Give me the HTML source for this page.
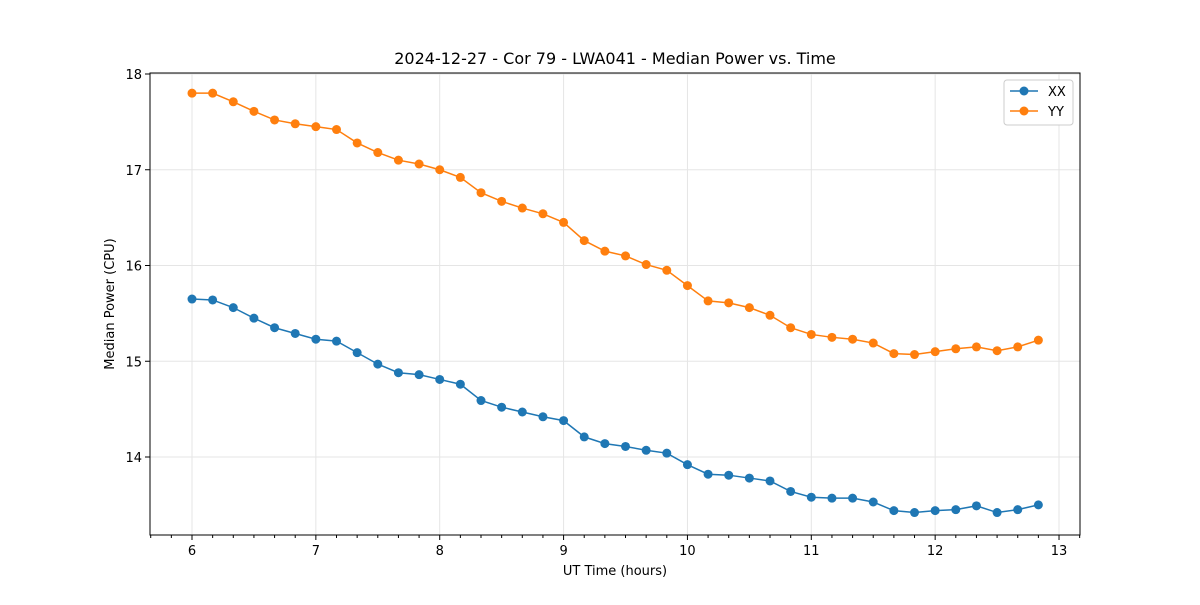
<!DOCTYPE html>
<html><head><meta charset="utf-8"><style>
body{margin:0;background:#fff;}
svg text{font-family:"DejaVu Sans","Liberation Sans",sans-serif;}
</style></head><body>
<svg id="chart" width="1200" height="600" xmlns="http://www.w3.org/2000/svg">
<rect width="1200" height="600" fill="#fff"/>
<g id="grid"></g><g id="axes"></g><g id="series"></g>
<text x="615" y="64" text-anchor="middle" font-size="16">2024-12-27 - Cor 79 - LWA041 - Median Power vs. Time</text>
<text x="615" y="575" text-anchor="middle" font-size="13">UT Time (hours)</text>
<text transform="translate(114,304) rotate(-90)" text-anchor="middle" font-size="13">Median Power (CPU)</text>
<g>
<rect x="1004" y="80" width="69" height="45" rx="3" fill="#fff" stroke="#ccc"/>
<line x1="1010" y1="91" x2="1038" y2="91" stroke="#1f77b4" stroke-width="1.5"/><circle cx="1024" cy="91" r="4.5" fill="#1f77b4"/>
<text x="1048" y="96" font-size="13">XX</text>
<line x1="1010" y1="111" x2="1038" y2="111" stroke="#ff7f0e" stroke-width="1.5"/><circle cx="1024" cy="111" r="4.5" fill="#ff7f0e"/>
<text x="1048" y="116" font-size="13">YY</text>
</g>
</svg>
<script>
const xTicks=[6,7,8,9,10,11,12,13];
const yTicks=[14,15,16,17,18];
const xxValues=[15.65,15.64,15.56,15.45,15.35,15.29,15.23,15.21,15.09,14.97,14.88,14.86,14.81,14.76,14.59,14.52,14.47,14.42,14.38,14.21,14.14,14.11,14.07,14.04,13.92,13.82,13.81,13.78,13.75,13.64,13.58,13.57,13.57,13.53,13.44,13.42,13.44,13.45,13.49,13.42,13.45,13.50];
const yyValues=[17.80,17.80,17.71,17.61,17.52,17.48,17.45,17.42,17.28,17.18,17.10,17.06,17.00,16.92,16.76,16.67,16.60,16.54,16.45,16.26,16.15,16.10,16.01,15.95,15.79,15.63,15.61,15.56,15.48,15.35,15.28,15.25,15.23,15.19,15.08,15.07,15.10,15.13,15.15,15.11,15.15,15.22];
const times=xxValues.map((_,i)=>6+i/6);
const L=150,R=1080,T=73,B=535;
const xs=v=>192+(v-6)*123.86;
const ys=v=>74+(18-v)*95.75;
const NS="http://www.w3.org/2000/svg";
function mk(p,tag,a){const e=document.createElementNS(NS,tag);for(const k in a)e.setAttribute(k,a[k]);p.appendChild(e);return e;}
const grid=document.getElementById('grid'),axes=document.getElementById('axes'),ser=document.getElementById('series');
xTicks.forEach(t=>{const x=xs(t);
 const g=mk(grid,'line',{x1:x,x2:x,y1:T,y2:B,stroke:'#e5e5e5','stroke-width':1});
 
 
 mk(axes,'line',{x1:x,x2:x,y1:B,y2:B+5,stroke:'#000'});
 const tx=mk(axes,'text',{x:x,y:B+20,'text-anchor':'middle','font-size':13});tx.textContent=t;
 
 
});
for(let k=-2;k<=44;k++){const v=6+k/6;const x=xs(v);if(x<L||x>R||k%6===0)continue;mk(axes,'line',{x1:x,x2:x,y1:B,y2:B+3,stroke:'#000'});}
yTicks.forEach(t=>{const y=ys(t);
 const g=mk(grid,'line',{x1:L,x2:R,y1:y,y2:y,stroke:'#e5e5e5','stroke-width':1});
 
 
 mk(axes,'line',{x1:L-5,x2:L,y1:y,y2:y,stroke:'#000'});
 const tx=mk(axes,'text',{x:L-8,y:y+5,'text-anchor':'end','font-size':13});tx.textContent=t;
 
 
});
const fr=mk(axes,'rect',{x:L,y:T,width:R-L,height:B-T,fill:'none',stroke:'#000','stroke-width':1});


function draw(vals,color,name){
 const pl=mk(ser,'polyline',{points:vals.map((v,i)=>xs(times[i])+','+ys(v)).join(' '),fill:'none',stroke:color,'stroke-width':1.5});
 
 
 vals.forEach((v,i)=>{const c=mk(ser,'circle',{cx:xs(times[i]),cy:ys(v),r:4.5,fill:color});
  
  });
}
draw(xxValues,'#1f77b4','xx');
draw(yyValues,'#ff7f0e','yy');
</script>
</body></html>
